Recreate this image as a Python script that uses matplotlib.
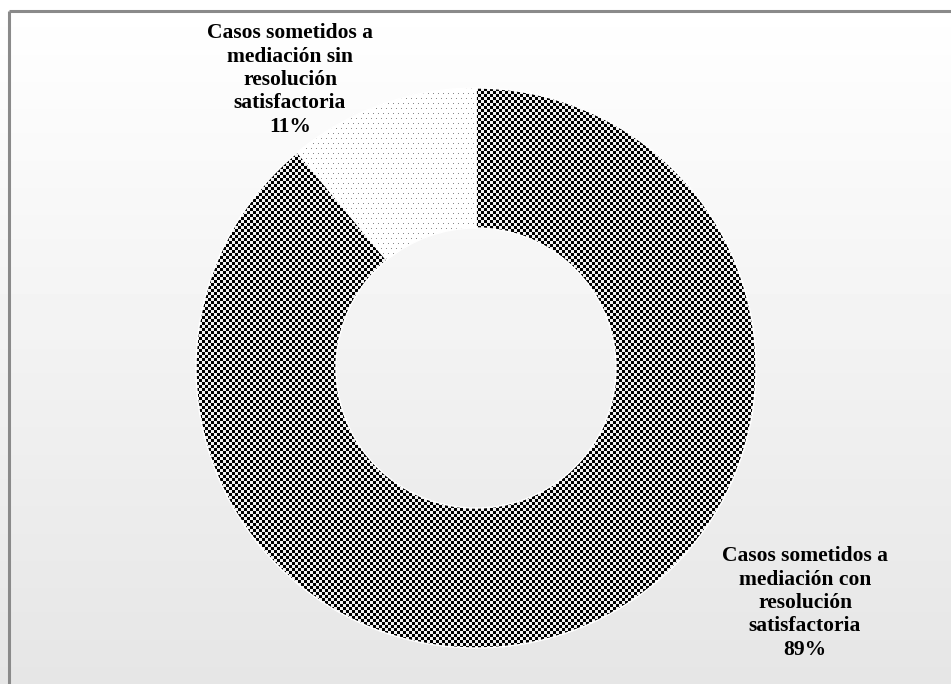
import numpy as np
import matplotlib
matplotlib.use("Agg")
from matplotlib import pyplot as plt

labels = ["Casos sometidos a\nmediación con\nresolución\nsatisfactoria",
          "Casos sometidos a\nmediación sin\nresolución\nsatisfactoria"]
values = [89, 11]

W, H = 951, 684
CX, CY, R = 476, 368, 280   # pixel centre / radius of the donut

fig = plt.figure(figsize=(W / 100, H / 100), dpi=100)
ax = fig.add_axes([0, 0, 1, 1])
ax.set_xlim(-CX / R, (W - CX) / R)
ax.set_ylim(-(H - CY) / R, CY / R)
ax.set_aspect("equal")
ax.axis("off")

# background: white at top to light grey at bottom
grad = np.linspace(1.0, 0.9, 200).reshape(-1, 1)
ax.imshow(grad, cmap="gray", vmin=0, vmax=1, aspect="auto",
          extent=(-CX / R, (W - CX) / R, -(H - CY) / R, CY / R), zorder=0)

# frame lines (left and top only visible)
x0 = (9 - CX) / R
y0 = (CY - 11) / R
ax.plot([x0, x0], [-(H - CY) / R - 1, y0], color="#8a8a8a", lw=2.2, zorder=1,
        solid_capstyle="butt")
ax.plot([x0, (W - CX) / R + 1], [y0, y0], color="#8a8a8a", lw=2.2, zorder=1,
        solid_capstyle="butt")

wedges, _ = ax.pie(values, startangle=90, counterclock=False, radius=1,
                   wedgeprops=dict(width=0.5, facecolor="none", edgecolor="white", lw=1),
                   center=(0, 0), frame=True)
ax.set_xlim(-CX / R, (W - CX) / R)
ax.set_ylim(-(H - CY) / R, CY / R)
ax.axis("off")

n = 2 * R
ii, jj = np.mgrid[0:n, 0:n]
checker = (((ii // 3) + (jj // 3)) % 2).astype(float) * 0.95
dots = np.ones((n, n))
m = ((ii % 5) == 0) & ((jj % 5) == ((ii // 5) % 2) * 2)
dots[m] = 0.55

for wedge, pat in zip(wedges, [checker, dots]):
    im = ax.imshow(pat, cmap="gray", vmin=0, vmax=1, interpolation="nearest",
                   extent=(-1, 1, -1, 1), zorder=2)
    im.set_clip_path(wedge)
    wedge.set_zorder(3)

font = dict(family="Liberation Serif", weight="bold", fontsize=15.5,
            ha="center", va="center", linespacing=1.22, zorder=4)
ax.text((805 - CX) / R, (CY - 603) / R, labels[0] + "\n%d%%" % values[0], **font)
ax.text((290 - CX) / R, (CY - 80) / R, labels[1] + "\n%d%%" % values[1], **font)

fig.savefig("out.png", dpi=100)
